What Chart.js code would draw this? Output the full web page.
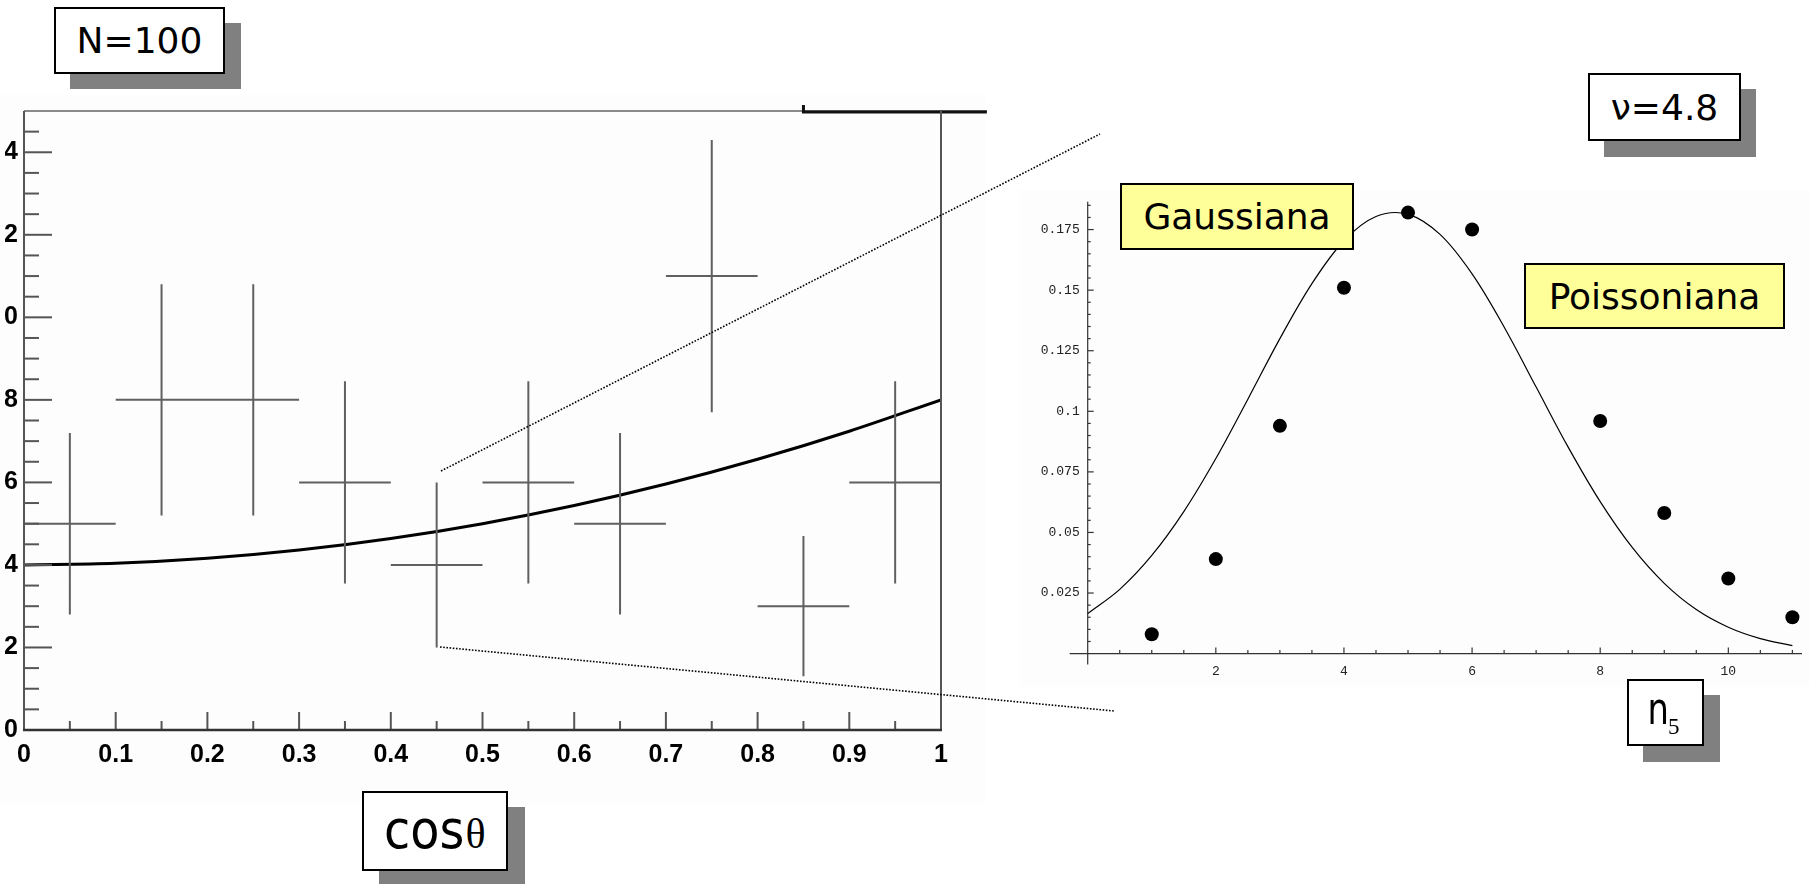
<!DOCTYPE html>
<html><head><meta charset="utf-8">
<script src="https://cdn.jsdelivr.net/npm/chart.js@4.4.1/dist/chart.umd.min.js"></script>
<style>
html,body{margin:0;padding:0;background:#fff;width:1809px;height:884px;overflow:hidden;position:relative;font-family:'DejaVu Sans',sans-serif;}
.abs{position:absolute;}
.box{position:absolute;border:2px solid #000;background:#fff;box-sizing:border-box;display:flex;align-items:center;justify-content:center;font-size:36px;color:#000;z-index:10;white-space:nowrap;}
.shadow{position:absolute;background:#808080;z-index:9;}
.yel{background:#ffff99;}
</style></head><body>
<div class="abs" style="left:0;top:95px;width:985px;height:710px;background:#fdfdfd"></div>
<div class="abs" style="left:1020px;top:190px;width:789px;height:497px;background:#fdfdfd"></div>
<canvas id="left" class="abs" width="1060" height="720" style="left:-40px;top:90px;clip-path:inset(0 0 0 45px);"></canvas>
<canvas id="right" class="abs" width="809" height="560" style="left:1000px;top:150px;"></canvas>
<svg class="abs" style="left:0;top:0;z-index:5;pointer-events:none" width="1809" height="884">
  <line x1="441" y1="471" x2="1100" y2="134" stroke="#000" stroke-width="1.6" stroke-dasharray="1.6,1.6"/>
  <line x1="440" y1="647" x2="1114" y2="711" stroke="#000" stroke-width="1.6" stroke-dasharray="1.6,1.6"/>
</svg>

<div class="shadow" style="left:70px;top:23px;width:171px;height:66px"></div>
<div class="box" style="left:54px;top:7px;width:171px;height:67px">N=100</div>

<div class="shadow" style="left:1604px;top:89px;width:152px;height:68px"></div>
<div class="box" style="left:1588px;top:73px;width:153px;height:68px">ν=4.8</div>

<div class="shadow" style="left:379px;top:807px;width:146px;height:80px"></div>
<div class="box" style="left:362px;top:791px;width:146px;height:80px"><span style="line-height:1;position:relative;top:-2px"><span style="font-size:53px;display:inline-block;transform:scaleX(0.9);transform-origin:left;margin-right:-8px">cos</span><span style="font-family:'Liberation Serif',serif;font-size:42px">θ</span></span></div>

<div class="shadow" style="left:1643px;top:695px;width:77px;height:67px"></div>
<div class="box" style="left:1627px;top:679px;width:77px;height:67px"><span style="line-height:1;position:relative;top:-4px;left:-2px"><span style="font-size:45px;display:inline-block;transform:scaleX(0.75);margin:0 -5px 0 -3px">n</span><span style="font-family:'Liberation Serif',serif;font-size:23px;position:relative;top:10px">5</span></span></div>

<div class="box yel" style="left:1120px;top:183px;width:234px;height:67px">Gaussiana</div>
<div class="box yel" style="left:1524px;top:263px;width:261px;height:66px">Poissoniana</div>

<script>
// ---------- Left chart data (cos theta histogram) ----------
const binEdges = [0,0.1,0.2,0.3,0.4,0.5,0.6,0.7,0.8,0.9,1.0];
const binCenters = [0.05,0.15,0.25,0.35,0.45,0.55,0.65,0.75,0.85,0.95];
const binCounts = [5,8,8,6,4,6,5,11,3,6];
const binErrors = [2.2,2.8,2.8,2.45,2.0,2.45,2.2,3.3,1.7,2.45];
const fitX = [0,0.1,0.2,0.3,0.4,0.5,0.6,0.7,0.8,0.9,1.0];
const fitY = [4.0,4.04,4.16,4.36,4.64,5.0,5.44,5.96,6.56,7.24,8.0];
const leftXTickValues = [0,0.1,0.2,0.3,0.4,0.5,0.6,0.7,0.8,0.9,1];
const leftXTickLabels = ['0','0.1','0.2','0.3','0.4','0.5','0.6','0.7','0.8','0.9','1'];
const leftYTickValues = [0,2,4,6,8,10,12,14];
const leftYTickLabels = ['0','2','4','6','8','10','12','14'];

// ---------- Right chart data (Poisson vs Gauss, nu = 4.8) ----------
const poissonN = [1,2,3,4,5,6,8,9,10,11];
const poissonP = [0.008,0.039,0.094,0.151,0.182,0.175,0.096,0.058,0.031,0.015];
const gaussX = [0,0.5,1,1.5,2,2.5,3,3.5,4,4.5,5,5.5,6,6.5,7,7.5,8,8.5,9,9.5,10,10.5,11];
const gaussY = [0.0165,0.0265,0.0405,0.0586,0.0805,0.105,0.130,0.1527,0.1704,0.1804,0.1813,0.173,0.1567,0.1348,0.110,0.0852,0.0627,0.0438,0.029,0.0182,0.0109,0.0062,0.0033];
const rightXTickValues = [2,4,6,8,10];
const rightXTickLabels = ['2','4','6','8','10'];
const rightYTickValues = [0.025,0.05,0.075,0.1,0.125,0.15,0.175];
const rightYTickLabels = ['0.025','0.05','0.075','0.1','0.125','0.15','0.175'];

function labelFor(values, labels){
  return function(v){
    const i = values.findIndex(t => Math.abs(t - v) < 1e-6);
    return i >= 0 ? labels[i] : '';
  };
}

// Error-bar crosses built from the arrays
const crossData = [];
binCenters.forEach((c,i) => {
  crossData.push({x: binEdges[i], y: binCounts[i]});
  crossData.push({x: binEdges[i+1], y: binCounts[i]});
  crossData.push({x: c, y: null});
  crossData.push({x: c, y: binCounts[i] - binErrors[i]});
  crossData.push({x: c, y: binCounts[i] + binErrors[i]});
  crossData.push({x: c, y: null});
});

const leftFrame = {
  id: 'leftFrame',
  afterDraw(chart){
    const {ctx} = chart; const x = chart.scales.x, y = chart.scales.y;
    const X = v => x.getPixelForValue(v), Y = v => y.getPixelForValue(v);
    ctx.save();
    ctx.lineCap = 'butt';
    ctx.strokeStyle = '#555'; ctx.lineWidth = 2;
    y.ticks.forEach(t => { const py = Y(t.value); ctx.beginPath(); ctx.moveTo(X(0), py); ctx.lineTo(X(0) + (t.label !== '' ? 28 : 15), py); ctx.stroke(); });
    x.ticks.forEach(t => { const px = X(t.value); ctx.beginPath(); ctx.moveTo(px, Y(0)); ctx.lineTo(px, Y(0) - (t.label !== '' ? 18 : 9)); ctx.stroke(); });
    // frame
    ctx.strokeStyle = '#8a8a8a'; ctx.lineWidth = 2;
    ctx.beginPath(); ctx.moveTo(X(0), Y(15)); ctx.lineTo(X(1.05), Y(15)); ctx.stroke();
    ctx.strokeStyle = '#111'; ctx.lineWidth = 3;
    ctx.beginPath(); ctx.moveTo(X(0.85), Y(15) - 6); ctx.lineTo(X(0.85), Y(15) + 1); ctx.lineTo(X(1.05), Y(15) + 1); ctx.stroke();
    ctx.strokeStyle = '#555'; ctx.lineWidth = 2;
    ctx.beginPath(); ctx.moveTo(X(1), Y(15)); ctx.lineTo(X(1), Y(0)); ctx.stroke();
    ctx.beginPath(); ctx.moveTo(X(0), Y(15)); ctx.lineTo(X(0), Y(0)); ctx.stroke();
    ctx.strokeStyle = '#333'; ctx.lineWidth = 2.5;
    ctx.beginPath(); ctx.moveTo(X(0) - 1, Y(0)); ctx.lineTo(X(1) + 1, Y(0)); ctx.stroke();
    ctx.restore();
  }
};

new Chart(document.getElementById('left'), {
  type: 'line',
  data: {
    datasets: [
      { data: crossData, borderColor: '#606060', borderWidth: 2, pointRadius: 0, spanGaps: false, tension: 0 },
      { data: fitX.map((v,i) => ({x: v, y: fitY[i]})), borderColor: '#000', borderWidth: 3, pointRadius: 0, cubicInterpolationMode: 'monotone' }
    ]
  },
  options: {
    responsive: false, animation: false, events: [],
    layout: { padding: { left: 0, right: 79, top: 19.3, bottom: 0 } },
    plugins: { legend: { display: false }, tooltip: { enabled: false } },
    scales: {
      x: { type: 'linear', min: 0, max: 1,
        afterFit(s){ s.height = 80; },
        grid: { display: false, drawTicks: false }, border: { display: false },
        ticks: { stepSize: 0.05, autoSkip: false, maxRotation: 0, includeBounds: false, padding: 10,
          color: '#000', font: { family: 'Liberation Sans', weight: 'bold', size: 25 },
          callback: labelFor(leftXTickValues, leftXTickLabels) } },
      y: { type: 'linear', min: 0, max: 15,
        afterFit(s){ s.width = 64; },
        grid: { display: false, drawTicks: false }, border: { display: false },
        ticks: { stepSize: 0.5, autoSkip: false, includeBounds: false, padding: 6,
          color: '#000', font: { family: 'Liberation Sans', weight: 'bold', size: 25 },
          callback: labelFor(leftYTickValues, leftYTickLabels) } }
    }
  },
  plugins: [leftFrame]
});

const rightAxes = {
  id: 'rightAxes',
  beforeDatasetsDraw(chart){
    const {ctx} = chart; const x = chart.scales.x, y = chart.scales.y;
    const X = v => x.getPixelForValue(v), Y = v => y.getPixelForValue(v);
    ctx.save();
    ctx.strokeStyle = '#333'; ctx.lineWidth = 1.2;
    ctx.beginPath(); ctx.moveTo(X(0), chart.chartArea.top); ctx.lineTo(X(0), Y(0) + 11); ctx.stroke();
    ctx.beginPath(); ctx.moveTo(X(0) - 18, Y(0)); ctx.lineTo(chart.chartArea.right, Y(0)); ctx.stroke();
    y.ticks.forEach(t => { if (t.value === 0) return; const py = Y(t.value); ctx.beginPath(); ctx.moveTo(X(0), py); ctx.lineTo(X(0) + (t.label !== '' ? 6 : 3), py); ctx.stroke(); });
    x.ticks.forEach(t => { if (t.value === 0) return; const px = X(t.value); ctx.beginPath(); ctx.moveTo(px, Y(0)); ctx.lineTo(px, Y(0) - (t.label !== '' ? 6 : 3.5)); ctx.stroke(); });
    ctx.restore();
  }
};

new Chart(document.getElementById('right'), {
  type: 'line',
  data: {
    datasets: [
      { data: gaussX.map((v,i) => ({x: v, y: gaussY[i]})), borderColor: '#000', borderWidth: 1.2, pointRadius: 0, tension: 0.35, clip: false },
      { data: poissonN.map((v,i) => ({x: v, y: poissonP[i]})), showLine: false, pointRadius: 7, pointBackgroundColor: '#000', pointBorderColor: '#000', pointBorderWidth: 0, clip: false }
    ]
  },
  options: {
    responsive: false, animation: false, events: [],
    layout: { padding: { left: 0, right: 0, top: 51.7, bottom: 0 } },
    plugins: { legend: { display: false }, tooltip: { enabled: false } },
    scales: {
      x: { type: 'linear', min: 0, max: 11.15,
        afterFit(s){ s.height = 56.4; },
        grid: { display: false, drawTicks: false }, border: { display: false },
        ticks: { stepSize: 0.5, autoSkip: false, maxRotation: 0, includeBounds: false, padding: 10,
          color: '#222', font: { family: 'Liberation Mono', size: 13 },
          callback: labelFor(rightXTickValues, rightXTickLabels) } },
      y: { type: 'linear', min: 0, max: 0.1865,
        afterFit(s){ s.width = 87.7; },
        grid: { display: false, drawTicks: false }, border: { display: false },
        ticks: { stepSize: 0.005, autoSkip: false, includeBounds: false, padding: 8,
          color: '#222', font: { family: 'Liberation Mono', size: 13 },
          callback: labelFor(rightYTickValues, rightYTickLabels) } }
    }
  },
  plugins: [rightAxes]
});
</script>
</body></html>
